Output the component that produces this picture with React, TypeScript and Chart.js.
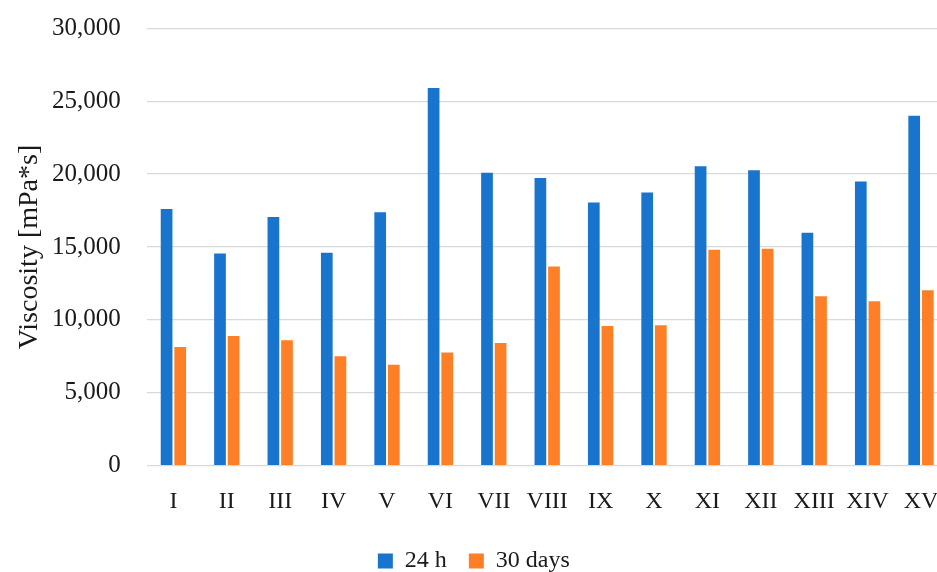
import React, { useEffect, useRef } from "react";
import { Chart, registerables } from "chart.js";

Chart.register(...registerables);

const categories = ["I", "II", "III", "IV", "V", "VI", "VII", "VIII", "IX", "X", "XI", "XII", "XIII", "XIV", "XV"];
const values24h = [17600, 14550, 17050, 14600, 17380, 25900, 20100, 19740, 18050, 18730, 20540, 20270, 15980, 19490, 24000];
const values30d = [8140, 8900, 8600, 7500, 6930, 7770, 8420, 13670, 9590, 9630, 14810, 14880, 11620, 11280, 12040];
const seriesNames = ["24 h", "30 days"];
const yTitle = "Viscosity [mPa*s]";

const FONT = "'Liberation Serif', 'Times New Roman', serif";
const TEXT = "#1a1a1a";

export default function App() {
  const ref = useRef<HTMLCanvasElement | null>(null);

  useEffect(() => {
    if (!ref.current) return;
    const chart = new Chart(ref.current, {
      type: "bar",
      data: {
        labels: categories,
        datasets: [
          { label: seriesNames[0], data: values24h, backgroundColor: "#1874CD" },
          { label: seriesNames[1], data: values30d, backgroundColor: "#FF7F27" },
        ],
      },
      options: {
        responsive: false,
        animation: false,
        layout: { padding: { top: 28.3, left: 0, right: 10.3, bottom: 0 } },
        datasets: {
          bar: { categoryPercentage: 0.51, barPercentage: 0.86 },
        },
        plugins: {
          legend: {
            position: "bottom",
            labels: {
              boxWidth: 15,
              boxHeight: 15,
              padding: 22,
              color: TEXT,
              font: { family: FONT, size: 24 },
            },
          },
          tooltip: { enabled: false },
        },
        scales: {
          x: {
            grid: { display: false },
            border: { display: false },
            ticks: { color: TEXT, padding: 14, font: { family: FONT, size: 24 }, maxRotation: 0, autoSkip: false },
            afterFit: (s: any) => {
              s.height = 61.3;
              s.paddingLeft = 0;
              s.paddingRight = 0;
            },
          },
          y: {
            min: 0,
            max: 30000,
            ticks: {
              stepSize: 5000,
              padding: 26,
              color: TEXT,
              font: { family: FONT, size: 25 },
              callback: (v: any) => Number(v).toLocaleString("en-US"),
            },
            grid: { color: "#d9d9d9", lineWidth: 1.3, drawTicks: false },
            border: { display: false },
            title: {
              display: true,
              text: yTitle,
              color: TEXT,
              font: { family: FONT, size: 28 },
              padding: { top: 12.4, bottom: 0 },
            },
            afterFit: (s: any) => {
              s.width = 146.7;
              s.paddingTop = 0;
              s.paddingBottom = 0;
            },
          },
        },
      },
    });
    return () => chart.destroy();
  }, []);

  return (
    <div style={{ position: "fixed", left: 0, top: 0, width: 937, height: 572, overflow: "hidden", background: "#fff" }}>
      <canvas ref={ref} width={958} height={583} style={{ display: "block" }} />
    </div>
  );
}
